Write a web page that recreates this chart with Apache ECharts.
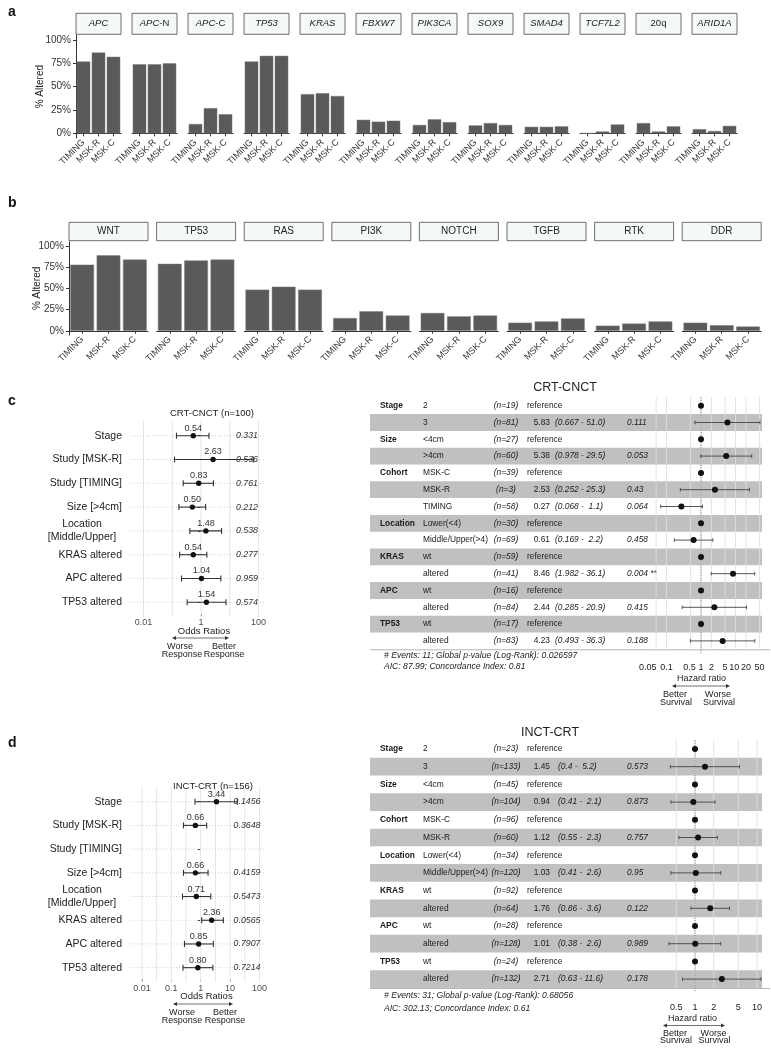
<!DOCTYPE html>
<html><head><meta charset="utf-8">
<script src="https://cdn.jsdelivr.net/npm/echarts@6/dist/echarts.min.js"></script>
<style>html,body{margin:0;padding:0;background:#fff}#c{width:771px;height:1050px}</style>
</head><body><div id="c"></div><script>
const FONT = "'Liberation Sans', Arial, Helvetica, sans-serif";

// ---------- panel a ----------
const cohorts = ['TIMING', 'MSK-R', 'MSK-C'];
const geneFacets = ['APC', 'APC-N', 'APC-C', 'TP53', 'KRAS', 'FBXW7', 'PIK3CA', 'SOX9', 'SMAD4', 'TCF7L2', '20q', 'ARID1A'];
const geneTIMING = [77, 74, 10, 77, 42, 14.5, 9, 8.5, 7, 0, 11, 4.5];
const geneMSKR   = [86.5, 74, 27, 83, 43, 12.5, 15, 11, 7, 2, 2, 2.5];
const geneMSKC   = [82, 75, 20.5, 83, 40, 13.5, 12, 9, 7.5, 9.5, 7.5, 8];
const pctTicks = [0, 25, 50, 75, 100];

// ---------- panel b ----------
const pathwayFacets = ['WNT', 'TP53', 'RAS', 'PI3K', 'NOTCH', 'TGFB', 'RTK', 'DDR'];
const pathTIMING = [78, 79, 48.5, 15, 21, 9.5, 6, 9.5];
const pathMSKR   = [89, 83, 52, 23, 17, 11, 8.5, 6.5];
const pathMSKC   = [84, 84, 48.5, 18, 18, 14.5, 11, 5];

// ---------- panels c/d left (odds ratios) ----------
const orTerms = ['Stage', 'Study [MSK-R]', 'Study [TIMING]', 'Size [>4cm]', 'Location\n[Middle/Upper]', 'KRAS altered', 'APC altered', 'TP53 altered'];
const cOR   = [0.54, 2.63, 0.83, 0.50, 1.48, 0.54, 1.04, 1.54];
const cORlo = [0.14, 0.12, 0.24, 0.17, 0.41, 0.18, 0.21, 0.33];
const cORhi = [1.9, 66, 2.7, 1.45, 5.2, 1.6, 4.9, 7.4];
const cORp  = ['0.331', '0.536', '0.761', '0.212', '0.538', '0.277', '0.959', '0.574'];
const dOR   = [3.44, 0.66, null, 0.66, 0.71, 2.36, 0.85, 0.80];
const dORlo = [0.64, 0.26, null, 0.26, 0.24, 1.08, 0.28, 0.25];
const dORhi = [17.6, 1.6, null, 1.78, 2.2, 5.9, 2.7, 2.6];
const dORp  = ['0.1456', '0.3648', '', '0.4159', '0.5473', '0.0565', '0.7907', '0.7214'];
const orTicksC = [0.01, 1, 100];
const orGridC  = [0.01, 0.1, 1, 10, 100];
const orTicksD = [0.01, 0.1, 1, 10, 100];
const orGridD  = [0.01, 0.0316, 0.1, 0.316, 1, 3.16, 10, 31.6, 100];

// ---------- panels c/d right (hazard ratios) ----------
const cVar   = ['Stage', '', 'Size', '', 'Cohort', '', '', 'Location', '', 'KRAS', '', 'APC', '', 'TP53', ''];
const cLevel = ['2', '3', '<4cm', '>4cm', 'MSK-C', 'MSK-R', 'TIMING', 'Lower(<4)', 'Middle/Upper(>4)', 'wt', 'altered', 'wt', 'altered', 'wt', 'altered'];
const cN     = [19, 81, 27, 60, 39, 3, 58, 30, 69, 59, 41, 16, 84, 17, 83];
const cHR    = [null, 5.83, null, 5.38, null, 2.53, 0.27, null, 0.61, null, 8.46, null, 2.44, null, 4.23];
const cHRlo  = [null, 0.667, null, 0.978, null, 0.252, 0.068, null, 0.169, null, 1.982, null, 0.285, null, 0.493];
const cHRhi  = [null, 51.0, null, 29.5, null, 25.3, 1.1, null, 2.2, null, 36.1, null, 20.9, null, 36.3];
const cHRp   = ['', '0.111', '', '0.053', '', '0.43', '0.064', '', '0.458', '', '0.004 **', '', '0.415', '', '0.188'];
const hrTicksC = [0.05, 0.1, 0.5, 1, 2, 5, 10, 20, 50];

const dVar   = ['Stage', '', 'Size', '', 'Cohort', '', 'Location', '', 'KRAS', '', 'APC', '', 'TP53', ''];
const dLevel = ['2', '3', '<4cm', '>4cm', 'MSK-C', 'MSK-R', 'Lower(<4)', 'Middle/Upper(>4)', 'wt', 'altered', 'wt', 'altered', 'wt', 'altered'];
const dN     = [23, 133, 45, 104, 96, 60, 34, 120, 92, 64, 28, 128, 24, 132];
const dHR    = [null, 1.45, null, 0.94, null, 1.12, null, 1.03, null, 1.76, null, 1.01, null, 2.71];
const dHRlo  = [null, 0.4, null, 0.41, null, 0.55, null, 0.41, null, 0.86, null, 0.38, null, 0.63];
const dHRhi  = [null, 5.2, null, 2.1, null, 2.3, null, 2.6, null, 3.6, null, 2.6, null, 11.6];
const dHRp   = ['', '0.573', '', '0.873', '', '0.757', '', '0.95', '', '0.122', '', '0.989', '', '0.178'];
const hrTicksD = [0.5, 1, 2, 5, 10];

// ================= build =================
const grids = [], xAxes = [], yAxes = [], series = [], graphics = [];
const log10 = Math.log10;
const fmtPow = v => String(+Math.pow(10, v).toPrecision(3));
function T(style) {
  const s = Object.assign({fill: '#222', fontSize: 10, fontFamily: FONT, align: 'center', verticalAlign: 'middle'}, style);
  s.textAlign = s.align; s.textVerticalAlign = s.verticalAlign;
  return s;
}
function txt(x, y, text, o) { graphics.push({type: 'text', x, y, silent: true, z: 10, style: T(Object.assign({text}, o || {}))}); }

function facetPanel(facets, vals, cfg) {
  facets.forEach((name, i) => {
    const gi = grids.length;
    const left = cfg.left + cfg.step * i;
    grids.push({left, top: cfg.top, width: cfg.width, height: cfg.height, outerBoundsMode: 'none'});
    xAxes.push({type: 'category', gridIndex: gi, data: cohorts,
      axisLine: {show: true, lineStyle: {color: '#333', width: 1}},
      axisTick: {show: true, alignWithLabel: true, length: 3, lineStyle: {color: '#333'}},
      axisLabel: {rotate: 45, interval: 0, fontSize: 9, color: '#333', margin: 3, fontFamily: FONT, hideOverlap: false},
      splitLine: {show: false}});
    if (i === 0) {
      yAxes.push({type: 'value', gridIndex: gi, min: -5, max: 105,
        name: '% Altered', nameLocation: 'middle', nameGap: cfg.nameGap, nameRotate: 90, nameMoveOverlap: false,
        nameTextStyle: {fontSize: 10, color: '#222', fontFamily: FONT},
        axisLine: {show: true, lineStyle: {color: '#333', width: 1}},
        axisTick: {show: true, length: 3, customValues: pctTicks, lineStyle: {color: '#333'}},
        axisLabel: {customValues: pctTicks, formatter: '{value}%', fontSize: 10, color: '#333', margin: 5, fontFamily: FONT, hideOverlap: false},
        splitLine: {show: false}});
    } else {
      yAxes.push({type: 'value', gridIndex: gi, min: -5, max: 105, show: false, splitLine: {show: false}});
    }
    series.push({type: 'bar', xAxisIndex: gi, yAxisIndex: gi, silent: true,
      data: vals.map(arr => arr[i]), barCategoryGap: '10%',
      itemStyle: {color: '#5a5a5a', borderColor: '#7a7a7a', borderWidth: 0.5}});
    graphics.push({type: 'rect', silent: true, shape: {x: left, y: cfg.stripTop, width: cfg.width, height: cfg.stripH},
      style: {fill: '#f5f8f8', stroke: '#4a4a4a', lineWidth: 0.8}});
    let text = name, rich;
    if (cfg.italic && name !== '20q') {
      const parts = name.split('-');
      text = '{i|' + parts[0] + '}' + (parts.length > 1 ? '{n|-' + parts[1] + '}' : '');
      rich = {i: {fontStyle: 'italic', fontSize: cfg.stripFont, fontFamily: FONT, fill: '#222', color: '#222'},
              n: {fontSize: cfg.stripFont, fontFamily: FONT, fill: '#222', color: '#222'}};
    }
    const st = {text, fontSize: cfg.stripFont};
    if (rich) st.rich = rich;
    graphics.push({type: 'text', silent: true, z: 10, x: left + cfg.width / 2, y: cfg.stripTop + cfg.stripH / 2, style: T(st)});
  });
}

facetPanel(geneFacets, [geneTIMING, geneMSKR, geneMSKC],
  {left: 76, step: 56, width: 45, top: 35.3, height: 102.7, stripTop: 13.3, stripH: 21, stripFont: 9.5, italic: true, nameGap: 31});
facetPanel(pathwayFacets, [pathTIMING, pathMSKR, pathMSKC],
  {left: 69, step: 87.6, width: 79, top: 241.8, height: 93.2, stripTop: 222.3, stripH: 18.4, stripFont: 10, italic: false, nameGap: 27});

// ---------- left forest (odds ratio) ----------
function orForest(cfg) {
  const gi = grids.length;
  const n = orTerms.length;
  grids.push({left: cfg.left, width: cfg.width, top: cfg.top, height: cfg.band * n, outerBoundsMode: 'none'});
  xAxes.push({type: 'value', gridIndex: gi, min: cfg.min, max: cfg.max,
    axisLine: {show: false}, splitLine: {show: false},
    axisTick: {show: true, customValues: cfg.ticks.map(log10), length: 2, lineStyle: {color: '#555'}},
    axisLabel: {customValues: cfg.ticks.map(log10), formatter: fmtPow, fontSize: 9, color: '#4d4d4d', margin: 4, fontFamily: FONT, hideOverlap: false}});
  yAxes.push({type: 'category', gridIndex: gi, data: orTerms, inverse: true,
    axisLine: {show: false}, splitLine: {show: false},
    axisTick: {show: true, alignWithLabel: true, length: 3, lineStyle: {color: '#444'}},
    axisLabel: {interval: 0, fontSize: 10.5, color: '#222', margin: 9, fontFamily: FONT, lineHeight: 13,
      formatter: v => v.indexOf('\n') >= 0 ? v.split('\n').map(s => '{c|' + s + '}').join('\n') : v,
      rich: {c: {width: 80, align: 'center', fontSize: 10.5, color: '#222', fontFamily: FONT, lineHeight: 13}}}});
  const ext = cfg.band * 0.1;
  series.push({type: 'custom', xAxisIndex: gi, yAxisIndex: gi, silent: true, z: 1,
    data: cfg.gridVals.map(v => [log10(v), 0]), encode: {x: 0, y: 1},
    renderItem: (params, api) => {
      const cs = params.coordSys, x = api.coord([api.value(0), 0])[0];
      return {type: 'line', shape: {x1: x, y1: cs.y - ext, x2: x, y2: cs.y + cs.height + ext}, style: {stroke: '#e6e6e6', lineWidth: 1}};
    }});
  series.push({type: 'custom', xAxisIndex: gi, yAxisIndex: gi, silent: true, z: 1,
    data: orTerms.map((t, i) => [0, i]), encode: {x: 0, y: 1},
    renderItem: (params, api) => {
      const cs = params.coordSys, y = api.coord([0, params.dataIndex])[1];
      return {type: 'line', shape: {x1: cs.x, y1: y, x2: cs.x + cs.width, y2: y}, style: {stroke: '#cfcfcf', lineWidth: 1, lineDash: [1, 2]}};
    }});
  series.push({type: 'custom', xAxisIndex: gi, yAxisIndex: gi, silent: true, z: 3,
    data: orTerms.map((t, i) => [cfg.or[i] == null ? 0 : log10(cfg.or[i]), i]), encode: {x: 0, y: 1},
    renderItem: (params, api) => {
      const i = params.dataIndex, cs = params.coordSys;
      const yc = api.coord([0, i])[1];
      const kids = [];
      if (cfg.or[i] != null) {
        const xl = api.coord([log10(cfg.lo[i]), i])[0];
        const xh = api.coord([log10(cfg.hi[i]), i])[0];
        const xp = api.coord([log10(cfg.or[i]), i])[0];
        const ls = {stroke: '#333', lineWidth: 1.1};
        kids.push({type: 'line', shape: {x1: xl, y1: yc, x2: xh, y2: yc}, style: ls});
        kids.push({type: 'line', shape: {x1: xl, y1: yc - 3, x2: xl, y2: yc + 3}, style: ls});
        kids.push({type: 'line', shape: {x1: xh, y1: yc - 3, x2: xh, y2: yc + 3}, style: ls});
        kids.push({type: 'circle', shape: {cx: xp, cy: yc, r: 2.7}, style: {fill: '#111'}});
        kids.push({type: 'text', x: xp, y: yc - 7.5, style: T({text: cfg.or[i].toFixed(2), fontSize: 9, fill: '#333'})});
      }
      if (cfg.p[i]) kids.push({type: 'text', x: cs.x + cs.width - 19, y: yc, style: T({text: cfg.p[i], fontSize: 8.8, fontStyle: 'italic', fill: '#333'})});
      return {type: 'group', children: kids};
    }});
}

orForest({left: 131, width: 135, min: (131 - 201) / 28.75, max: (266 - 201) / 28.75, top: 423.8, band: 23.8,
  or: cOR, lo: cORlo, hi: cORhi, p: cORp, ticks: orTicksC, gridVals: orGridC});
orForest({left: 131, width: 135, min: (131 - 200.7) / 29.4, max: (266 - 200.7) / 29.4, top: 789.85, band: 23.71,
  or: dOR, lo: dORlo, hi: dORhi, p: dORp, ticks: orTicksD, gridVals: orGridD});

// ---------- right hazard tables ----------
function hazardTable(cfg) {
  const n = cfg.levels.length;
  const H = cfg.rowH * n;
  const gT = grids.length;
  const FS = 8.4;
  grids.push({left: 370, top: cfg.top, width: 392, height: H, outerBoundsMode: 'none'});
  xAxes.push({type: 'value', gridIndex: gT, min: 0, max: 1, show: false, splitLine: {show: false}});
  yAxes.push({type: 'category', gridIndex: gT, data: cfg.levels.map((l, i) => i), inverse: true, show: false});
  series.push({type: 'custom', xAxisIndex: gT, yAxisIndex: gT, silent: true, z: 1,
    data: cfg.levels.map((l, i) => [0, i]), encode: {x: 0, y: 1},
    renderItem: (params, api) => {
      const i = params.dataIndex, cs = params.coordSys;
      const yc = api.coord([0, i])[1], h = api.size([0, 1])[1], x0 = cs.x;
      const kids = [];
      if (i % 2 === 1) kids.push({type: 'rect', shape: {x: x0, y: yc - h / 2, width: cs.width, height: h}, style: {fill: '#c0c0c0'}});
      const t = (text, x, align, o) => kids.push({type: 'text', x, y: yc, style: T(Object.assign({text, align, fontSize: FS, fill: '#1a1a1a'}, o || {}))});
      if (cfg.vars[i]) t(cfg.vars[i], x0 + 10, 'left', {fontWeight: 'bold'});
      t(cfg.levels[i], x0 + 53, 'left');
      t('(n=' + cfg.n[i] + ')', x0 + 136, 'center', {fontStyle: 'italic'});
      if (cfg.hr[i] == null) {
        t('reference', x0 + 157, 'left');
      } else {
        t(cfg.hr[i].toFixed(2), x0 + 180, 'right');
        const hi = cfg.hi[i].toFixed(1);
        t('(' + String(cfg.lo[i]) + ' - ' + (hi.length < 4 ? ' ' : '') + hi + ')', x0 + cfg.ciX, 'left', {fontStyle: 'italic'});
        t(cfg.p[i], x0 + 257, 'left', {fontStyle: 'italic'});
      }
      return {type: 'group', children: kids};
    }});
  graphics.push({type: 'line', silent: true, shape: {x1: 370, y1: cfg.top + H + 0.5, x2: 770, y2: cfg.top + H + 0.5}, style: {stroke: '#b5b5b5', lineWidth: 1}});

  const gF = grids.length;
  grids.push({left: cfg.fLeft, top: cfg.top, width: 762 - cfg.fLeft, height: H, outerBoundsMode: 'none'});
  xAxes.push({type: 'value', gridIndex: gF, min: cfg.fMin, max: cfg.fMax,
    axisLine: {show: false}, axisTick: {show: false}, splitLine: {show: false}, axisLabel: {show: false}});
  yAxes.push({type: 'category', gridIndex: gF, data: cfg.levels.map((l, i) => i), inverse: true, show: false});
  series.push({type: 'custom', xAxisIndex: gF, yAxisIndex: gF, silent: true, z: 2,
    data: cfg.ticks.map(v => [log10(v), 0]), encode: {x: 0, y: 1},
    renderItem: (params, api) => {
      const cs = params.coordSys, x = api.coord([api.value(0), 0])[0];
      return {type: 'line', shape: {x1: x, y1: cs.y, x2: x, y2: cs.y + cs.height}, style: {stroke: 'rgba(222,222,222,0.85)', lineWidth: 1}};
    }});
  // tick labels: all shown; a label that would collide with the next one is nudged left
  const LFS = 9;
  series.push({type: 'custom', xAxisIndex: gF, yAxisIndex: gF, silent: true, z: 2,
    data: [[0, 0]], encode: {x: 0, y: 1},
    renderItem: (params, api) => {
      const cs = params.coordSys;
      const labs = cfg.ticks.map(v => {
        const text = fmtPow(log10(v));
        return {text, cx: api.coord([log10(v), 0])[0], w: text.length * 0.53 * LFS};
      });
      for (let k = labs.length - 2; k >= 0; k--) {
        const rightK = labs[k].cx + labs[k].w / 2, leftN = labs[k + 1].cx - labs[k + 1].w / 2;
        if (rightK > leftN - 2) labs[k].cx -= rightK - (leftN - 2);
      }
      return {type: 'group', children: labs.map(l => ({type: 'text', x: l.cx, y: cs.y + cs.height + cfg.labelMargin + 4.5,
        style: T({text: l.text, fontSize: LFS, fill: '#222'})}))};
    }});
  series.push({type: 'custom', xAxisIndex: gF, yAxisIndex: gF, silent: true, z: 2,
    data: [[0, 0]], encode: {x: 0, y: 1},
    renderItem: (params, api) => {
      const cs = params.coordSys, x = api.coord([api.value(0), 0])[0];
      return {type: 'line', shape: {x1: x, y1: cs.y, x2: x, y2: cs.y + cs.height + 4}, style: {stroke: '#777', lineWidth: 1, lineDash: [1, 1.5]}};
    }});
  series.push({type: 'custom', xAxisIndex: gF, yAxisIndex: gF, silent: true, z: 3,
    data: cfg.levels.map((l, i) => [cfg.hr[i] == null ? 0 : log10(cfg.hr[i]), i]), encode: {x: 0, y: 1},
    renderItem: (params, api) => {
      const i = params.dataIndex;
      const yc = api.coord([0, i])[1];
      const kids = [];
      if (cfg.hr[i] != null) {
        const xl = api.coord([log10(cfg.lo[i]), i])[0];
        const xh = api.coord([log10(cfg.hi[i]), i])[0];
        const ls = {stroke: '#444', lineWidth: 0.9};
        kids.push({type: 'line', shape: {x1: xl, y1: yc, x2: xh, y2: yc}, style: ls});
        kids.push({type: 'line', shape: {x1: xl, y1: yc - 1.8, x2: xl, y2: yc + 1.8}, style: ls});
        kids.push({type: 'line', shape: {x1: xh, y1: yc - 1.8, x2: xh, y2: yc + 1.8}, style: ls});
      }
      const xp = api.coord([api.value(0), i])[0];
      kids.push({type: 'circle', shape: {cx: xp, cy: yc, r: 3}, style: {fill: '#111'}});
      return {type: 'group', children: kids};
    }});
}

hazardTable({top: 397.3, rowH: 16.8, vars: cVar, levels: cLevel, n: cN, hr: cHR, lo: cHRlo, hi: cHRhi, p: cHRp, ciX: 185,
  fLeft: 640, fMin: (640 - 701) / 34.5, fMax: (762 - 701) / 34.5, ticks: hrTicksC, labelMargin: 14});
hazardTable({top: 740.15, rowH: 17.7, vars: dVar, levels: dLevel, n: dN, hr: dHR, lo: dHRlo, hi: dHRhi, p: dHRp, ciX: 188,
  fLeft: 660, fMin: (660 - 695) / 62, fMax: (762 - 695) / 62, ticks: hrTicksD, labelMargin: 15.5});

// ---------- annotations ----------
function arrows(x1, x2, y) {
  const st = {stroke: '#333', lineWidth: 0.7};
  graphics.push({type: 'line', silent: true, shape: {x1: x1 + 2, y1: y, x2: x2 - 2, y2: y}, style: st});
  graphics.push({type: 'polygon', silent: true, shape: {points: [[x1, y], [x1 + 4, y - 2], [x1 + 4, y + 2]]}, style: {fill: '#333'}});
  graphics.push({type: 'polygon', silent: true, shape: {points: [[x2, y], [x2 - 4, y - 2], [x2 - 4, y + 2]]}, style: {fill: '#333'}});
}

txt(8, 12, 'a', {fontSize: 14, fontWeight: 'bold', align: 'left', fill: '#111'});
txt(8, 203, 'b', {fontSize: 14, fontWeight: 'bold', align: 'left', fill: '#111'});
txt(8, 401, 'c', {fontSize: 14, fontWeight: 'bold', align: 'left', fill: '#111'});
txt(8, 743, 'd', {fontSize: 14, fontWeight: 'bold', align: 'left', fill: '#111'});

txt(212, 413, 'CRT-CNCT (n=100)', {fontSize: 9.5});
txt(204, 631.5, 'Odds Ratios', {fontSize: 9.5});
arrows(172, 229, 638);
txt(180, 646.5, 'Worse', {fontSize: 9}); txt(182, 655, 'Response', {fontSize: 9});
txt(224, 646.5, 'Better', {fontSize: 9}); txt(224, 655, 'Response', {fontSize: 9});

txt(213, 786.5, 'INCT-CRT (n=156)', {fontSize: 9.5});
txt(206.5, 996.5, 'Odds Ratios', {fontSize: 9.5});
arrows(173, 233, 1004);
txt(182, 1012.3, 'Worse', {fontSize: 9}); txt(182, 1020.5, 'Response', {fontSize: 9});
txt(225, 1012.3, 'Better', {fontSize: 9}); txt(225, 1020.5, 'Response', {fontSize: 9});

txt(565, 388, 'CRT-CNCT', {fontSize: 12.5});
txt(384, 655.7, '# Events: 11; Global p-value (Log-Rank): 0.026597', {fontSize: 8.6, fontStyle: 'italic', align: 'left'});
txt(384, 666.5, 'AIC: 87.99; Concordance Index: 0.81', {fontSize: 8.6, fontStyle: 'italic', align: 'left'});
txt(701.5, 678.3, 'Hazard ratio', {fontSize: 9});
arrows(672, 730, 686);
txt(675, 695, 'Better', {fontSize: 9}); txt(676, 703, 'Survival', {fontSize: 9});
txt(718, 695, 'Worse', {fontSize: 9}); txt(719, 703, 'Survival', {fontSize: 9});

txt(550, 733, 'INCT-CRT', {fontSize: 12.5});
txt(384, 996, '# Events: 31; Global p-value (Log-Rank): 0.68056', {fontSize: 8.6, fontStyle: 'italic', align: 'left'});
txt(384, 1008.5, 'AIC: 302.13; Concordance Index: 0.61', {fontSize: 8.6, fontStyle: 'italic', align: 'left'});
txt(692.5, 1018.3, 'Hazard ratio', {fontSize: 9});
arrows(663, 725, 1025.5);
txt(675, 1033.3, 'Better', {fontSize: 9}); txt(676, 1041, 'Survival', {fontSize: 9});
txt(713.5, 1033.3, 'Worse', {fontSize: 9}); txt(714.5, 1041, 'Survival', {fontSize: 9});

const chart = echarts.init(document.getElementById('c'), null, {renderer: 'canvas'});
chart.setOption({
  backgroundColor: '#ffffff',
  animation: false,
  textStyle: {fontFamily: FONT},
  tooltip: {show: false},
  grid: grids, xAxis: xAxes, yAxis: yAxes, series: series,
  graphic: {elements: graphics}
});
</script></body></html>
